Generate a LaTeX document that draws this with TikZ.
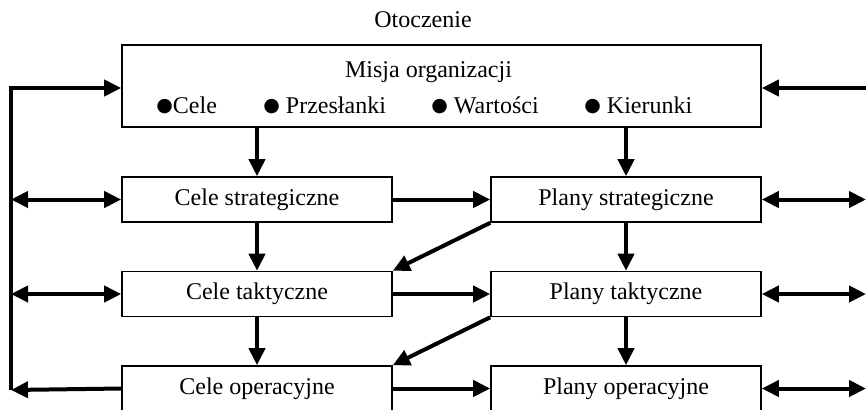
\documentclass[tikz,border=0pt]{standalone}
\usepackage{fontspec}
\setmainfont{Liberation Serif}
\newfontfamily\dejavu{DejaVu Sans}
\usetikzlibrary{arrows.meta, positioning}

\newcommand{\bul}{\raisebox{0.9pt}{\dejavu\fontsize{9.5}{9.5}\selectfont ●}}

\tikzset{
  box/.style={draw, line width=0.8pt, minimum width=135pt, minimum height=22.5pt, inner sep=0pt, font=\fontsize{12}{14}\selectfont},
  txt/.style={inner sep=0pt, font=\fontsize{12}{14}\selectfont},
  flow/.style={line width=2pt, -{Triangle[length=8.5pt, width=8pt]}},
  both/.style={line width=2pt, {Triangle[length=8.5pt, width=8pt]}-{Triangle[length=8.5pt, width=8pt]}},
}

\begin{document}
\begin{tikzpicture}[x=0.5pt, y=-0.5pt]
    \useasboundingbox (0,0) rectangle (866,409);

    % Environment
    \node[txt, anchor=base] (otocz) at (423,27) {Otoczenie};

    % Mission box
    \node[box, minimum width=319.5pt, minimum height=41pt] (misja) at (441.5,86) {};
    \node[txt, anchor=base] (misjatyt) at (428.5,77) {Misja organizacji};
    \node[txt, anchor=base west] (cele) at (156,113) {\bul Cele};
    \node[txt, anchor=base west] (przes) at (263,113) {\bul\ Przesłanki};
    \node[txt, anchor=base west] (wart) at (431,113) {\bul\ Wartości};
    \node[txt, anchor=base west] (kier) at (584,113) {\bul\ Kierunki};

    % Goals and plans
    \node[box] (cstrat) at (257,199.5) {Cele strategiczne};
    \node[box] (pstrat) at (626,199.5) {Plany strategiczne};
    \node[box] (ctakt) at (257,294) {Cele taktyczne};
    \node[box] (ptakt) at (626,294) {Plany taktyczne};
    \node[box] (coper) at (257,388.5) {Cele operacyjne};
    \node[box] (poper) at (626,388.5) {Plany operacyjne};

    % Outer lines
    \coordinate (lt) at (11,88);
    \coordinate (lb) at (11,390);
    \coordinate (rt) at (866,88);

    % Downward flow
    \draw[flow] (misja.south -| cstrat.north) -- (cstrat.north);
    \draw[flow] (misja.south -| pstrat.north) -- (pstrat.north);
    \draw[flow] (cstrat) -- (ctakt);
    \draw[flow] (ctakt) -- (coper);
    \draw[flow] (pstrat) -- (ptakt);
    \draw[flow] (ptakt) -- (poper);

    % Goals to plans
    \draw[flow] (cstrat.east) -- (pstrat.west);
    \draw[flow] (ctakt.east) -- (ptakt.west);
    \draw[flow] (coper.east) -- (poper.west);
    \draw[flow] (pstrat.south west) -- (ctakt.north east);
    \draw[flow] (ptakt.south west) -- (coper.north east);

    % Left feedback
    \draw[flow] (lb) -- (lt) -- (lt -| misja.west);
    \draw[both] (lt |- cstrat) -- (cstrat.west);
    \draw[both] (lt |- ctakt) -- (ctakt.west);
    \draw[flow] (coper.west) -- (lb);

    % Right side
    \draw[flow] (rt) -- (rt -| misja.east);
    \draw[both] (pstrat.east) -- (pstrat.east -| rt);
    \draw[both] (ptakt.east) -- (ptakt.east -| rt);
    \draw[both] (poper.east) -- (poper.east -| rt);
\end{tikzpicture}
\end{document}
